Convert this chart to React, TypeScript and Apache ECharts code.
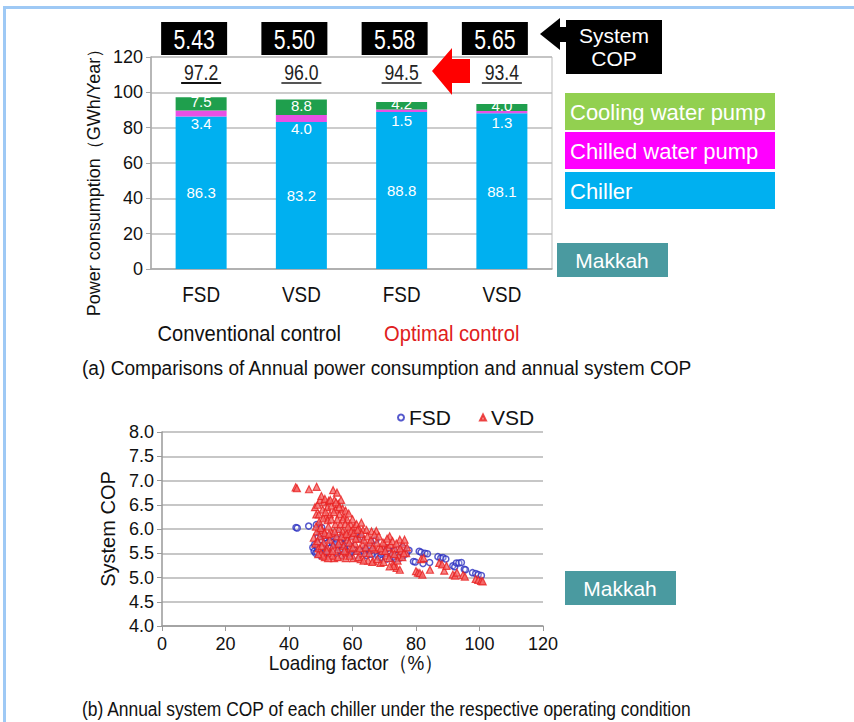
import React, { useEffect, useRef } from "react";
import * as echarts from "echarts";

const categories = ["FSD", "VSD", "FSD", "VSD"];
const chillerValues = [86.3, 83.2, 88.8, 88.1];
const chilledPumpValues = [3.4, 4.0, 1.5, 1.3];
const coolingPumpValues = [7.5, 8.8, 4.2, 4.0];
const systemCOP = ["5.43", "5.50", "5.58", "5.65"];
const controlGroups = ["Conventional control", "Optimal control"];

const fsdPoints: number[][] = [
  [42.2, 6.03], [42.6, 6.02], [46.2, 6.06], [48.6, 6.09], [49.5, 6.05], [50.3, 6.03],
  [47.5, 5.62], [47.9, 5.54], [48.4, 5.5], [48.8, 5.52], [49.2, 5.83], [49.8, 5.9],
  [50.2, 5.78], [50.6, 5.62], [51.0, 5.48], [51.5, 5.55], [51.9, 5.7], [52.3, 5.85],
  [52.8, 5.6], [53.2, 5.45], [53.6, 5.72], [54.0, 5.58], [54.4, 5.68], [54.8, 5.8],
  [55.2, 5.5], [55.6, 5.66], [56.0, 5.74], [56.4, 5.46], [56.8, 5.6], [57.3, 5.82],
  [57.8, 5.55], [58.2, 5.7], [58.8, 5.48], [59.3, 5.62], [59.8, 5.52], [60.4, 5.58],
  [61.0, 5.9], [61.6, 5.88], [62.4, 5.84], [62.9, 5.8], [63.3, 5.55], [63.8, 5.5],
  [64.5, 5.45], [65.2, 5.62], [66.0, 5.48], [66.8, 5.76], [67.4, 5.78], [68.0, 5.44],
  [68.6, 5.4], [69.4, 5.52], [70.2, 5.62], [70.8, 5.38], [71.5, 5.55], [72.2, 5.4],
  [72.9, 5.42], [73.5, 5.38], [74.2, 5.58], [74.9, 5.4], [75.6, 5.62], [76.3, 5.6],
  [77.0, 5.5], [77.8, 5.56], [79.2, 5.33], [79.8, 5.32], [81.0, 5.54], [81.6, 5.52],
  [82.2, 5.29], [82.8, 5.5], [83.6, 5.49], [84.3, 5.31], [86.9, 5.43], [87.8, 5.4],
  [88.5, 5.41], [89.4, 5.38], [91.6, 5.24], [92.2, 5.22], [92.7, 5.3], [93.5, 5.3],
  [94.3, 5.31], [95.2, 5.17], [95.6, 5.16], [97.8, 5.1], [98.8, 5.08], [99.6, 5.06],
  [100.6, 5.04],
  [48.1, 5.68], [49.0, 5.62], [50.0, 5.45], [51.2, 5.82], [52.5, 5.5], [53.9, 5.85],
  [55.0, 5.72], [55.4, 5.9], [56.2, 5.55], [57.0, 5.68], [58.5, 5.88], [59.6, 5.75],
  [60.8, 5.45], [64.0, 5.6], [65.8, 5.55], [69.0, 5.48], [71.0, 5.6], [73.0, 5.55],
  [76.0, 5.45]
];

const vsdPoints: number[][] = [
  [42.1, 6.86], [42.5, 6.84], [46.3, 6.82], [48.7, 6.87],
  [48.2, 6.45], [48.6, 6.3], [49.0, 6.5], [49.5, 6.15], [49.8, 6.6], [50.2, 6.68],
  [50.6, 6.4], [51.0, 6.55], [51.3, 6.62], [51.7, 6.25], [52.1, 6.45], [52.5, 6.58],
  [52.9, 6.3], [53.4, 6.48], [53.9, 6.8], [54.3, 6.6], [54.7, 6.4], [55.1, 6.75],
  [55.5, 6.52], [55.9, 6.3], [56.4, 6.6], [56.9, 6.42], [57.3, 6.25], [57.8, 6.38],
  [58.3, 6.2], [58.8, 6.32], [59.4, 6.1], [60.0, 6.2], [60.6, 6.05], [61.3, 6.1],
  [62.0, 6.0], [62.8, 6.13], [63.3, 5.98],
  [47.8, 5.82], [48.3, 5.7], [48.8, 5.95], [49.3, 5.6], [49.7, 5.85], [50.1, 5.5],
  [50.5, 5.98], [50.9, 5.72], [51.3, 5.42], [51.6, 5.88], [52.0, 5.62], [52.4, 6.05],
  [52.8, 5.78], [53.1, 5.5], [53.5, 5.92], [53.9, 5.66], [54.2, 5.4], [54.6, 6.1],
  [55.0, 5.85], [55.3, 5.58], [55.7, 6.0], [56.1, 5.75], [56.5, 5.45], [56.9, 5.95],
  [57.2, 5.65], [57.6, 5.88], [58.0, 5.52], [58.4, 5.78], [58.9, 5.98], [59.3, 5.6],
  [59.8, 5.85], [60.3, 5.4], [60.8, 5.7], [61.4, 5.55], [62.0, 5.8], [62.6, 5.38],
  [63.2, 5.68], [63.9, 5.5], [64.4, 5.98], [64.9, 5.35], [65.4, 5.72], [66.0, 5.95],
  [66.5, 5.34], [67.0, 5.58], [67.5, 5.96], [68.2, 5.62], [68.8, 5.3], [69.4, 5.55],
  [70.0, 5.7], [70.6, 5.45], [71.2, 5.62], [71.7, 5.85], [72.3, 5.5], [72.8, 5.28],
  [73.4, 5.6], [73.9, 5.2], [74.5, 5.45], [74.9, 5.78], [75.4, 5.55], [75.9, 5.68],
  [76.4, 5.78], [76.9, 5.5], [74.9, 5.16], [73.0, 5.24], [71.7, 5.23],
  [80.0, 5.13], [80.6, 5.1], [81.2, 5.09], [82.0, 5.06], [81.6, 5.38], [82.4, 5.4],
  [84.4, 5.16], [87.3, 5.3], [88.2, 5.27], [88.9, 5.14], [89.6, 5.24],
  [91.6, 5.06], [92.3, 5.04], [92.9, 5.1], [94.8, 5.05], [95.4, 5.02],
  [98.8, 4.97], [99.6, 4.95], [100.5, 4.93], [101.0, 4.92],
  [48.5, 6.05], [49.0, 5.75], [49.4, 6.3], [49.9, 6.02], [50.3, 5.65], [50.8, 6.22],
  [51.2, 5.92], [51.5, 6.35], [51.9, 5.55], [52.2, 6.18], [52.6, 5.9], [53.0, 6.6],
  [53.3, 6.2], [53.7, 5.45], [54.1, 6.35], [54.4, 5.95], [54.8, 6.55], [55.2, 6.2],
  [55.6, 5.7], [55.8, 6.45], [56.2, 6.1], [56.6, 5.85], [57.0, 6.2], [57.4, 5.55],
  [57.7, 6.1], [58.1, 5.9], [58.6, 6.05], [59.0, 5.72], [59.6, 5.95], [60.1, 5.62],
  [60.5, 5.92], [61.0, 5.8], [61.6, 5.98], [62.3, 5.6], [62.9, 5.9], [63.6, 5.78],
  [64.2, 5.62], [64.7, 5.85], [65.3, 5.5], [65.8, 5.78], [66.3, 5.62], [66.9, 5.88],
  [67.7, 5.72], [68.3, 5.85], [68.9, 5.6], [69.6, 5.72], [70.3, 5.55], [70.9, 5.8],
  [71.5, 5.4], [72.0, 5.68], [72.6, 5.75], [73.2, 5.48], [73.8, 5.7], [74.2, 5.35],
  [75.0, 5.6], [75.7, 5.42], [76.2, 5.5], [77.2, 5.62], [53.8, 5.55], [55.4, 5.42],
  [57.9, 5.4], [59.1, 5.45], [61.8, 5.42], [63.5, 5.35], [66.2, 5.32], [67.8, 5.38],
  [69.8, 5.32], [52.3, 5.4], [50.7, 5.45], [49.2, 5.48]
];

const SANS = "'Liberation Sans', Arial, sans-serif";

export default function App() {
  const ref = useRef<HTMLDivElement>(null);
  useEffect(() => {
    document.body.style.margin = "0";
    const chart = echarts.init(ref.current!, null, { renderer: "svg" });
    const segLabel = (offset: number[]) => ({
      show: true,
      position: "inside",
      offset,
      color: "#fff",
      fontSize: 15,
      fontFamily: SANS,
      formatter: (p: any) => Number(p.value).toFixed(1),
    });
    chart.setOption({
      animation: false,
      backgroundColor: "#fff",
      legend: {
        data: ["FSD", "VSD"],
        left: 392,
        top: 402,
        itemWidth: 6,
        itemHeight: 6,
        itemGap: 28,
        textStyle: { fontSize: 21, color: "#111", fontFamily: SANS },
      },
      grid: [
        { left: 151, right: 302, top: 57, height: 212, show: true, borderColor: "#bbb", borderWidth: 1 },
        { left: 162, right: 311, top: 432, height: 194 },
      ],
      xAxis: [
        {
          type: "category",
          gridIndex: 0,
          data: categories,
          axisLine: { lineStyle: { color: "#aaa", width: 1.5 } },
          axisTick: { show: false },
          axisLabel: { show: false },
        },
        {
          type: "value",
          gridIndex: 1,
          min: 0,
          max: 120,
          interval: 20,
          axisLine: { show: true, lineStyle: { color: "#999", width: 1.5 } },
          axisTick: { show: true, length: 5, lineStyle: { color: "#999" } },
          splitLine: { show: false },
          axisLabel: { fontSize: 18, color: "#111", fontFamily: SANS, margin: 9 },
        },
      ],
      yAxis: [
        {
          type: "value",
          gridIndex: 0,
          min: 0,
          max: 120,
          interval: 20,
          axisLine: { show: true, lineStyle: { color: "#aaa", width: 1.5 } },
          axisTick: { show: true, length: 5, lineStyle: { color: "#aaa" } },
          splitLine: { lineStyle: { color: "#bbb", width: 1.5 } },
          axisLabel: { fontSize: 18, color: "#111", fontFamily: SANS, margin: 8 },
          name: "Power consumption（GWh/Year）",
          nameLocation: "middle",
          nameGap: 48,
          nameTextStyle: { fontSize: 18, color: "#111", fontFamily: SANS, padding: [0, 0, 0, -30] },
        },
        {
          type: "value",
          gridIndex: 1,
          min: 4,
          max: 8,
          interval: 0.5,
          axisLine: { show: true, lineStyle: { color: "#999", width: 1.5 } },
          axisTick: { show: true, length: 5, lineStyle: { color: "#999" } },
          splitLine: { lineStyle: { color: "#b5b5b5", width: 1.5 } },
          axisLabel: { fontSize: 18, color: "#111", fontFamily: SANS, margin: 8, formatter: (v: number) => v.toFixed(1) },
          name: "System COP",
          nameLocation: "middle",
          nameGap: 44,
          nameTextStyle: { fontSize: 20, color: "#111", fontFamily: SANS },
        },
      ],
      series: [
        {
          name: "Chiller",
          type: "bar",
          stack: "total",
          xAxisIndex: 0,
          yAxisIndex: 0,
          barWidth: 51,
          data: chillerValues,
          itemStyle: { color: "#00b0f0" },
          label: segLabel([0, 0]),
        },
        {
          name: "Chilled water pump",
          type: "bar",
          stack: "total",
          xAxisIndex: 0,
          yAxisIndex: 0,
          barWidth: 51,
          data: chilledPumpValues,
          itemStyle: { color: "#e850e4" },
          label: segLabel([0, 10]),
        },
        {
          name: "Cooling water pump",
          type: "bar",
          stack: "total",
          xAxisIndex: 0,
          yAxisIndex: 0,
          barWidth: 51,
          data: coolingPumpValues,
          itemStyle: { color: "#1f9f4d" },
          label: segLabel([0, -2]),
        },
        {
          name: "FSD",
          type: "scatter",
          xAxisIndex: 1,
          yAxisIndex: 1,
          data: fsdPoints,
          symbol: "circle",
          symbolSize: 6,
          itemStyle: { color: "rgba(255,255,255,0.3)", borderColor: "#2a2fc0", borderWidth: 1.5 },
        },
        {
          name: "VSD",
          type: "scatter",
          xAxisIndex: 1,
          yAxisIndex: 1,
          data: vsdPoints,
          symbol: "triangle",
          symbolSize: 7,
          itemStyle: { color: "#f46a6a", borderColor: "#e82020", borderWidth: 1.2 },
        },
      ],
    });

    const xs = categories.map((_, i) => chart.convertToPixel({ xAxisIndex: 0 }, i) as number);
    const graphics: any[] = [];
    const txt = (text: string, x: number, y: number, size: number, fill: string, align: string, sx = 1, family = SANS) => ({
      type: "text",
      x,
      y,
      scaleX: sx,
      style: { text, fill, fontSize: size, fontFamily: family, textAlign: align, textVerticalAlign: "middle", align, verticalAlign: "middle" },
    });
    // page border
    graphics.push({ type: "rect", shape: { x: 3, y: 6, width: 851, height: 3 }, style: { fill: "#9ec9f5" } });
    graphics.push({ type: "rect", shape: { x: 3, y: 6, width: 3, height: 716 }, style: { fill: "#9ec9f5" } });
    // COP boxes, totals, category labels
    categories.forEach((c, i) => {
      const cx = xs[i] - 7;
      graphics.push({ type: "rect", shape: { x: cx - 33, y: 22, width: 66, height: 33 }, style: { fill: "#000" } });
      graphics.push(txt(systemCOP[i], cx, 39, 28, "#fff", "center", 0.76));
      const total = (chillerValues[i] + chilledPumpValues[i] + coolingPumpValues[i]).toFixed(1);
      graphics.push(txt(total, xs[i], 72, 22, "#222", "center", 0.8));
      graphics.push({
        type: "line",
        shape: { x1: xs[i] - 20, y1: 83, x2: xs[i] + 20, y2: 83 },
        style: { stroke: i === 0 ? "#111" : "#555", lineWidth: 2 },
      });
      graphics.push(txt(c, xs[i], 294, 22, "#111", "center", 0.86));
    });
    // Red arrow
    graphics.push({
      type: "polygon",
      shape: { points: [[432, 71], [452, 48], [452, 59], [470, 59], [470, 83], [452, 83], [452, 95]] },
      style: { fill: "#ff0000" },
    });
    // System COP box with black arrow
    graphics.push({ type: "polygon", shape: { points: [[540, 34], [560, 18], [560, 27], [568, 27], [568, 42], [560, 42], [560, 50]] }, style: { fill: "#000" } });
    graphics.push({ type: "rect", shape: { x: 566, y: 20, width: 96, height: 54 }, style: { fill: "#000" } });
    graphics.push({
      type: "text", x: 614, y: 47,
      style: { text: "System\nCOP", fill: "#fff", fontSize: 21, lineHeight: 23, fontFamily: SANS, textAlign: "center", textVerticalAlign: "middle", align: "center", verticalAlign: "middle" },
    });
    // Legend boxes
    const legendItems = [
      { text: "Cooling water pump", color: "#92d050", y: 93 },
      { text: "Chilled water pump", color: "#ff00ff", y: 132 },
      { text: "Chiller", color: "#00b0f0", y: 172 },
    ];
    legendItems.forEach((it) => {
      graphics.push({ type: "rect", shape: { x: 565, y: it.y, width: 210, height: 37 }, style: { fill: it.color } });
      graphics.push(txt(it.text, 570, it.y + 19, 22, "#fff", "left"));
    });
    // Makkah boxes
    [{ x: 557, y: 243 }, { x: 565, y: 571 }].forEach((b) => {
      graphics.push({ type: "rect", shape: { x: b.x, y: b.y, width: 111, height: 34 }, style: { fill: "#4a9aa0" } });
      graphics.push(txt("Makkah", b.x + 55, b.y + 17, 21, "#fff", "center"));
    });
    // control group labels
    const groupX = [(xs[0] + xs[1]) / 2 - 2, (xs[2] + xs[3]) / 2];
    controlGroups.forEach((g, i) => {
      graphics.push(txt(g, groupX[i], 333, 22, i === 0 ? "#111" : "#e02020", "center", 0.915));
    });
    // scatter x-axis name
    graphics.push(txt("Loading factor（%）", 356, 663, 21, "#111", "center", 0.9));
    // captions
    graphics.push(txt("(a) Comparisons of Annual power consumption and annual system COP", 82, 368, 21, "#111", "left", 0.91));
    graphics.push(txt("(b) Annual system COP of each chiller under the respective operating condition", 82, 709, 21, "#111", "left", 0.83));
    chart.setOption({ graphic: graphics });
    return () => chart.dispose();
  }, []);
  return <div ref={ref} style={{ width: 854, height: 722 }} />;
}
